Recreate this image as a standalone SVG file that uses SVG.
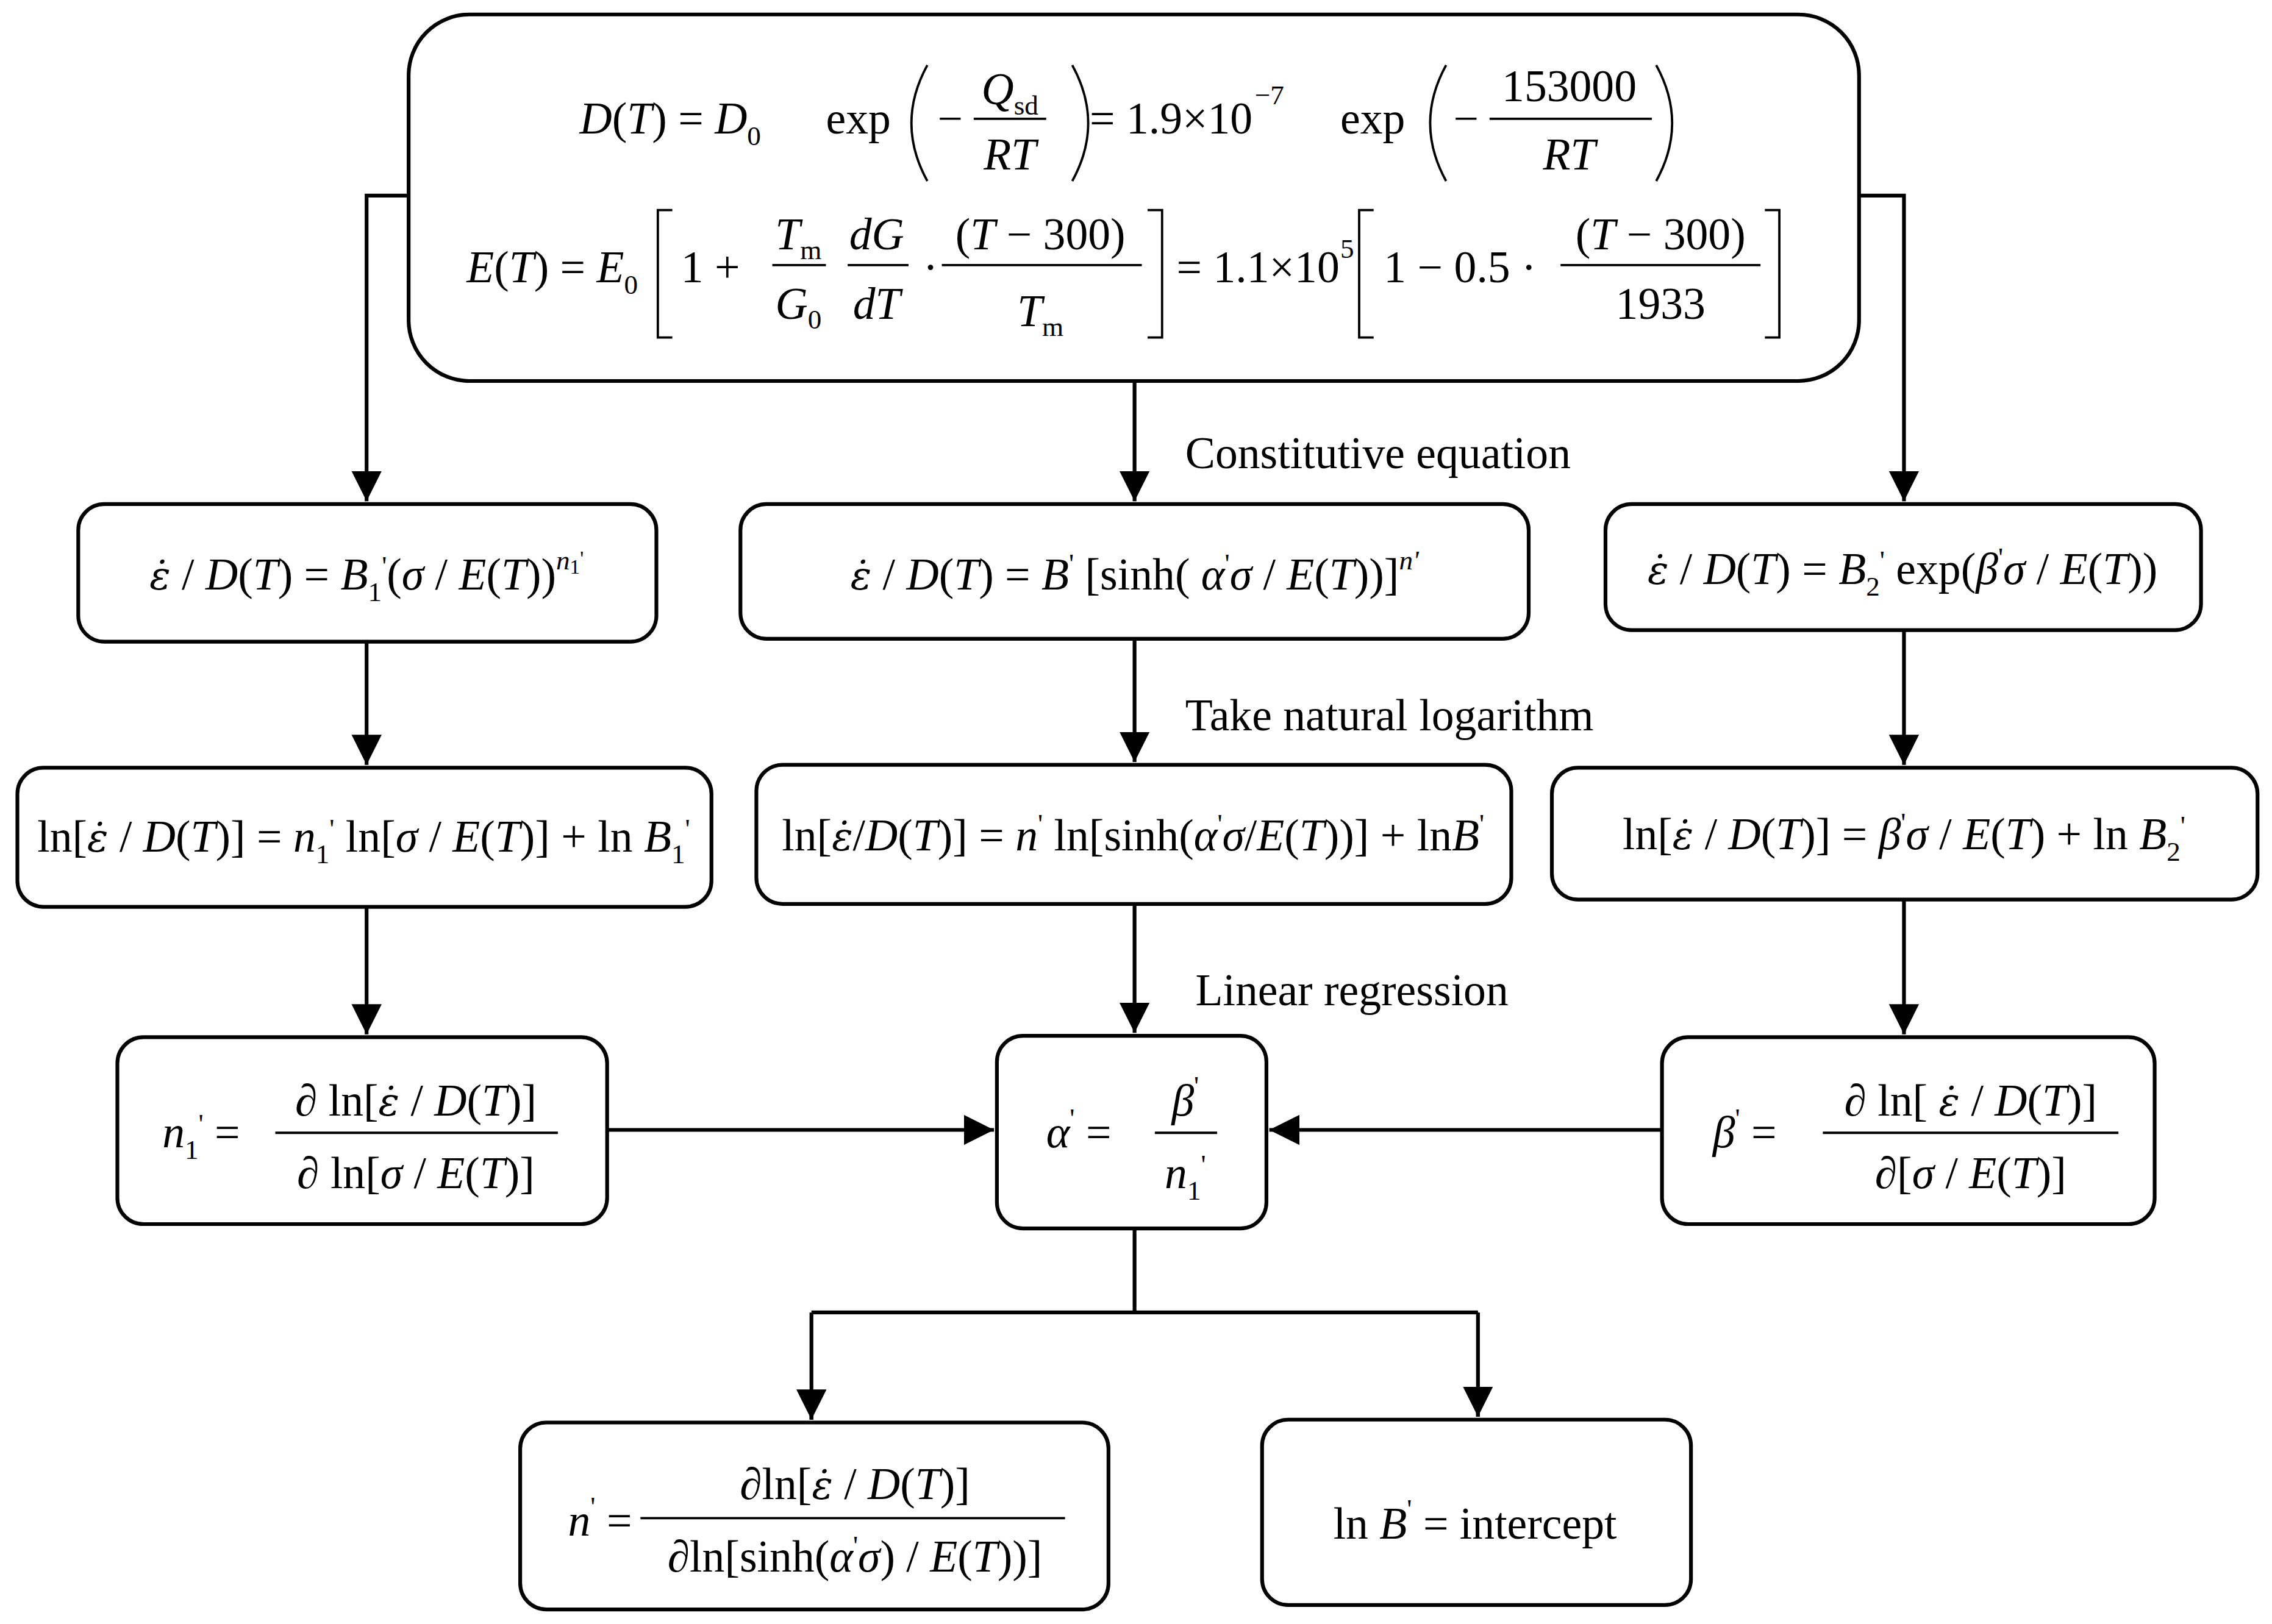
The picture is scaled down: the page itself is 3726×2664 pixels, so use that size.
<svg xmlns="http://www.w3.org/2000/svg" width="3726" height="2664" viewBox="0 0 3726 2664">
<style>
.b{fill:#fff;stroke:#000;stroke-width:2.6}
.c{fill:none;stroke:#000;stroke-width:2.6}
.f{fill:none;stroke:#000;stroke-width:1.6}
text{font-family:"Liberation Serif","DejaVu Serif",serif;font-size:31px;fill:#000}
.i{font-style:italic}
.e{font-family:"DejaVu Serif",serif;font-style:italic;font-size:27px}
.m{text-anchor:middle}
.s{font-size:19px}
.t{font-size:14px}
</style>
<defs><marker id="ar" viewBox="0 0 10 10" refX="10" refY="5" markerWidth="8" markerHeight="8" orient="auto"><path d="M0,0L10,5L0,10z"/></marker></defs>
<rect width="3726" height="2664" fill="#fff"/>
<g transform="scale(2.3763)">
<g id="connectors">
<path class="c" d="M282,135H253V346" marker-end="url(#ar)"/>
<path class="c" d="M1283,135H1314V346" marker-end="url(#ar)"/>
<path class="c" d="M783,263V346" marker-end="url(#ar)"/>
<path class="c" d="M253,443V528" marker-end="url(#ar)"/>
<path class="c" d="M783,441V526" marker-end="url(#ar)"/>
<path class="c" d="M1314,435V528" marker-end="url(#ar)"/>
<path class="c" d="M253,626V714" marker-end="url(#ar)"/>
<path class="c" d="M783,624V713" marker-end="url(#ar)"/>
<path class="c" d="M1314,621V714" marker-end="url(#ar)"/>
<path class="c" d="M419,780H686" marker-end="url(#ar)"/>
<path class="c" d="M1147,780H876" marker-end="url(#ar)"/>
<path class="c" d="M783,848V906M560,906H1020M560,906V980M1020,906V978"/>
<path class="c" d="M560,960V980" marker-end="url(#ar)"/>
<path class="c" d="M1020,958V978" marker-end="url(#ar)"/>
<text x="818" y="323">Constitutive equation</text>
<text x="818" y="504">Take natural logarithm</text>
<text x="825" y="694">Linear regression</text>
</g>
<g id="top">
<rect class="b" x="282" y="10" width="1001" height="253" rx="42"/>
<text x="400" y="92"><tspan class="i">D</tspan>(<tspan class="i">T</tspan>) = <tspan class="i">D</tspan><tspan class="s" dy="8">0</tspan></text>
<text x="570" y="92">exp</text>
<path class="f" d="M640,45Q618,85 640,125M740,45Q762,85 740,125"/>
<text x="647" y="92">−</text>
<text class="m" x="697" y="72"><tspan class="i">Q</tspan><tspan class="s" dy="7">sd</tspan></text>
<line class="f" x1="672" y1="82" x2="722" y2="82"/>
<text class="m i" x="697" y="117">RT</text>
<text x="752" y="92">= 1.9×10</text><text class="s" x="866" y="72">−7</text>
<text x="925" y="92">exp</text>
<path class="f" d="M998,45Q976,85 998,125M1143,45Q1165,85 1143,125"/>
<text x="1003" y="92">−</text>
<text class="m" x="1083" y="70">153000</text>
<line class="f" x1="1028" y1="82" x2="1140" y2="82"/>
<text class="m i" x="1083" y="117">RT</text>
<text x="322" y="195"><tspan class="i">E</tspan>(<tspan class="i">T</tspan>) = <tspan class="i">E</tspan><tspan class="s" dy="8">0</tspan></text>
<path class="f" d="M464,145H454V233H464M792,145H802V233H792"/>
<text x="470" y="195">1 +</text>
<text class="m" x="551" y="172"><tspan class="i">T</tspan><tspan class="s" dy="7">m</tspan></text>
<line class="f" x1="533" y1="183" x2="570" y2="183"/>
<text class="m" x="551" y="220"><tspan class="i">G</tspan><tspan class="s" dy="7">0</tspan></text>
<text class="m i" x="605" y="172">dG</text>
<line class="f" x1="585" y1="183" x2="627" y2="183"/>
<text class="m i" x="605" y="220">dT</text>
<text x="637" y="195">·</text>
<text class="m" x="718" y="172">(<tspan class="i">T</tspan> − 300)</text>
<line class="f" x1="650" y1="183" x2="788" y2="183"/>
<text class="m" x="718" y="225"><tspan class="i">T</tspan><tspan class="s" dy="7">m</tspan></text>
<text x="812" y="195">= 1.1×10</text><text class="s" x="925" y="178">5</text>
<path class="f" d="M948,145H938V233H948M1218,145H1228V233H1218"/>
<text x="955" y="195">1 − 0.5 ·</text>
<text class="m" x="1146" y="172">(<tspan class="i">T</tspan> − 300)</text>
<line class="f" x1="1077" y1="183" x2="1215" y2="183"/>
<text class="m" x="1146" y="220">1933</text>
</g>
<g id="r1l"><rect class="b" x="54" y="348" width="399" height="95" rx="18"/>
<text class="m" x="253" y="407"><tspan class="e">ε̇</tspan> / <tspan class="i">D</tspan>(<tspan class="i">T</tspan>) = <tspan class="i">B</tspan><tspan class="s" dy="8">1</tspan><tspan class="s" dy="-18">'</tspan><tspan dy="10">(</tspan><tspan class="i">σ</tspan> / <tspan class="i">E</tspan>(<tspan class="i">T</tspan>))<tspan class="s i" dy="-14">n</tspan><tspan class="t" dy="3">1</tspan><tspan class="t" dy="-6">'</tspan></text></g>
<g id="r1m"><rect class="b" x="511" y="348" width="544" height="93" rx="18"/>
<text class="m" x="783" y="407"><tspan class="e">ε̇</tspan> / <tspan class="i">D</tspan>(<tspan class="i">T</tspan>) = <tspan class="i">B</tspan><tspan class="s" dy="-12">'</tspan><tspan dy="12"> [sinh( </tspan><tspan class="i">α</tspan><tspan class="s" dy="-12">'</tspan><tspan class="i" dy="12">σ</tspan> / <tspan class="i">E</tspan>(<tspan class="i">T</tspan>))]<tspan class="s i" dy="-14">n'</tspan></text></g>
<g id="r1r"><rect class="b" x="1108" y="348" width="411" height="87" rx="18"/>
<text class="m" x="1313" y="403"><tspan class="e">ε̇</tspan> / <tspan class="i">D</tspan>(<tspan class="i">T</tspan>) = <tspan class="i">B</tspan><tspan class="s" dy="8">2</tspan><tspan class="s" dy="-18">'</tspan><tspan dy="10"> exp(</tspan><tspan class="i">β</tspan><tspan class="s" dy="-12">'</tspan><tspan class="i" dy="12">σ</tspan> / <tspan class="i">E</tspan>(<tspan class="i">T</tspan>))</text></g>
<g id="r2l"><rect class="b" x="12" y="530" width="479" height="96" rx="18"/>
<text class="m" x="251" y="588">ln[<tspan class="e">ε̇</tspan> / <tspan class="i">D</tspan>(<tspan class="i">T</tspan>)] = <tspan class="i">n</tspan><tspan class="s" dy="8">1</tspan><tspan class="s" dy="-18">'</tspan><tspan dy="10"> ln[</tspan><tspan class="i">σ</tspan> / <tspan class="i">E</tspan>(<tspan class="i">T</tspan>)] + ln <tspan class="i">B</tspan><tspan class="s" dy="8">1</tspan><tspan class="s" dy="-18">'</tspan></text></g>
<g id="r2m"><rect class="b" x="522" y="528" width="521" height="96" rx="18"/>
<text class="m" x="782" y="587">ln[<tspan class="e">ε̇</tspan>/<tspan class="i">D</tspan>(<tspan class="i">T</tspan>)] = <tspan class="i">n</tspan><tspan class="s" dy="-12">'</tspan><tspan dy="12"> ln[sinh(</tspan><tspan class="i">α</tspan><tspan class="s" dy="-12">'</tspan><tspan class="i" dy="12">σ</tspan>/<tspan class="i">E</tspan>(<tspan class="i">T</tspan>))] + ln<tspan class="i">B</tspan><tspan class="s" dy="-12">'</tspan></text></g>
<g id="r2r"><rect class="b" x="1071" y="530" width="487" height="91" rx="18"/>
<text class="m" x="1314" y="586">ln[<tspan class="e">ε̇</tspan> / <tspan class="i">D</tspan>(<tspan class="i">T</tspan>)] = <tspan class="i">β</tspan><tspan class="s" dy="-12">'</tspan><tspan class="i" dy="12">σ</tspan> / <tspan class="i">E</tspan>(<tspan class="i">T</tspan>) + ln <tspan class="i">B</tspan><tspan class="s" dy="8">2</tspan><tspan class="s" dy="-18">'</tspan></text></g>
<g id="r3l"><rect class="b" x="81" y="716" width="338" height="129" rx="18"/>
<text x="112" y="792"><tspan class="i">n</tspan><tspan class="s" dy="8">1</tspan><tspan class="s" dy="-18">'</tspan><tspan dy="10"> =</tspan></text>
<text class="m" x="287" y="770">∂ ln[<tspan class="e">ε̇</tspan> / <tspan class="i">D</tspan>(<tspan class="i">T</tspan>)]</text>
<line class="f" x1="190" y1="782" x2="385" y2="782"/>
<text class="m" x="287" y="820">∂ ln[<tspan class="i">σ</tspan> / <tspan class="i">E</tspan>(<tspan class="i">T</tspan>)]</text></g>
<g id="r3m"><rect class="b" x="688" y="715" width="186" height="133" rx="18"/>
<text x="722" y="792"><tspan class="i">α</tspan><tspan class="s" dy="-14">'</tspan><tspan dy="14"> =</tspan></text>
<text class="m" x="818" y="770"><tspan class="i">β</tspan><tspan class="s" dy="-14">'</tspan></text>
<line class="f" x1="797" y1="782" x2="840" y2="782"/>
<text class="m" x="818" y="820"><tspan class="i">n</tspan><tspan class="s" dy="8">1</tspan><tspan class="s" dy="-18">'</tspan></text></g>
<g id="r3r"><rect class="b" x="1147" y="716" width="340" height="129" rx="18"/>
<text x="1182" y="792"><tspan class="i">β</tspan><tspan class="s" dy="-14">'</tspan><tspan dy="14"> =</tspan></text>
<text class="m" x="1360" y="770">∂ ln[ <tspan class="e">ε̇</tspan> / <tspan class="i">D</tspan>(<tspan class="i">T</tspan>)]</text>
<line class="f" x1="1258" y1="782" x2="1462" y2="782"/>
<text class="m" x="1360" y="820">∂[<tspan class="i">σ</tspan> / <tspan class="i">E</tspan>(<tspan class="i">T</tspan>)]</text></g>
<g id="r4l"><rect class="b" x="359" y="982" width="406" height="129" rx="18"/>
<text x="392" y="1060"><tspan class="i">n</tspan><tspan class="s" dy="-14">'</tspan><tspan dy="14"> =</tspan></text>
<text class="m" x="590" y="1035">∂ln[<tspan class="e">ε̇</tspan> / <tspan class="i">D</tspan>(<tspan class="i">T</tspan>)]</text>
<line class="f" x1="442" y1="1048" x2="735" y2="1048"/>
<text class="m" x="590" y="1085">∂ln[sinh(<tspan class="i">α</tspan><tspan class="s" dy="-12">'</tspan><tspan class="i" dy="12">σ</tspan>) / <tspan class="i">E</tspan>(<tspan class="i">T</tspan>))]</text></g>
<g id="r4r"><rect class="b" x="871" y="980" width="296" height="128" rx="18"/>
<text class="m" x="1018" y="1062">ln <tspan class="i">B</tspan><tspan class="s" dy="-14">'</tspan><tspan dy="14"> = intercept</tspan></text></g>
</g>
</svg>
